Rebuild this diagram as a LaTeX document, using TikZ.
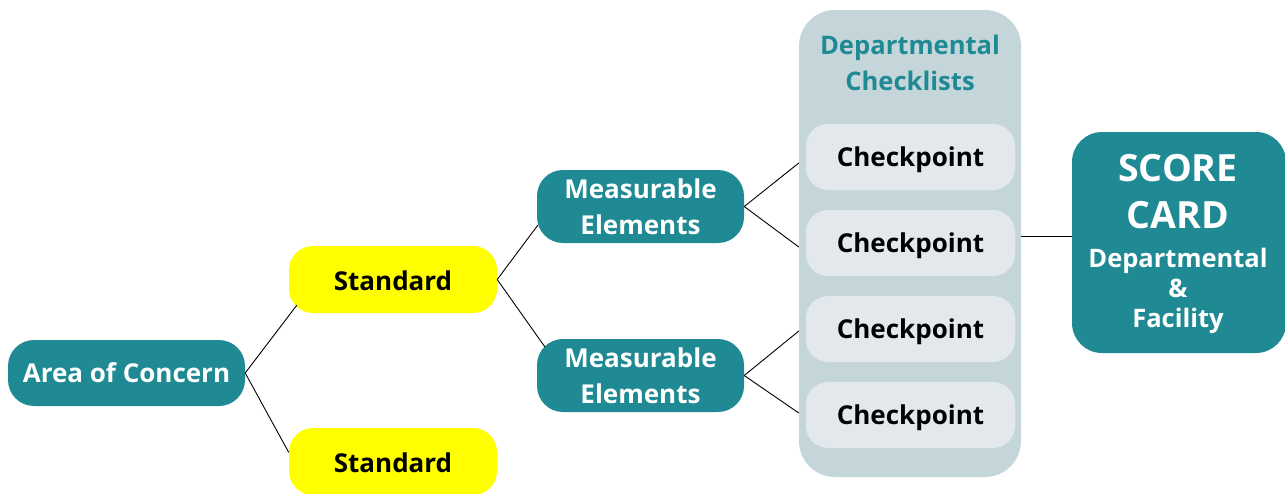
\documentclass[tikz,border=0pt]{standalone}
\usepackage{fontspec}
\setmainfont{Open Sans}
\usetikzlibrary{calc}
\definecolor{tealbox}{RGB}{31,138,148}
\definecolor{panelc}{RGB}{197,214,219}
\definecolor{cpfill}{RGB}{226,232,235}
\definecolor{yellowbox}{RGB}{255,255,0}
\begin{document}
\begin{tikzpicture}[x=1pt,y=-1pt,
  lbl/.style={font=\bfseries\fontsize{26}{36}\selectfont, align=center, inner sep=0pt},
  tealnode/.style={lbl, fill=tealbox, text=white, rounded corners=26pt},
  stdnode/.style={lbl, fill=yellowbox, text=black, rounded corners=24pt, minimum width=208pt, minimum height=67pt, text height=22.6pt, text depth=0pt},
  cpnode/.style={lbl, fill=cpfill, text=black, rounded corners=22pt, minimum width=209pt, minimum height=66pt, text height=18.6pt, text depth=0pt},
  menode/.style={tealnode, minimum width=207pt, minimum height=73pt},
  conn/.style={draw=black, line width=0.9pt},
  sctext/.style={font=\bfseries\fontsize{37.5}{40}\selectfont, text=white, inner sep=0pt, anchor=base},
  sctextsm/.style={font=\bfseries\fontsize{25.5}{30}\selectfont, text=white, inner sep=0pt, anchor=base}
]
\useasboundingbox (0,0) rectangle (1285,493);
% panel
\node[fill=panelc, rounded corners=36pt, minimum width=222pt, minimum height=467pt, inner sep=0pt] (panel) at (910,243.5) {};
\node[lbl, text=tealbox, font=\bfseries\fontsize{25.6}{36}\selectfont] (head) at (910,63) {Departmental\\Checklists};
% checkpoints
\node[cpnode] (cp1) at (910.5,157) {Checkpoint};
\node[cpnode] (cp2) at (910.5,243) {Checkpoint};
\node[cpnode] (cp3) at (910.5,329) {Checkpoint};
\node[cpnode] (cp4) at (910.5,415) {Checkpoint};
% left tree
\node[tealnode, minimum width=237pt, minimum height=66pt, text height=18.6pt, text depth=0pt] (area) at (126.5,373) {Area of Concern};
\node[stdnode] (std1) at (393,279.5) {Standard};
\node[stdnode] (std2) at (393,461.5) {Standard};
\node[menode] (me1) at (640.5,206.5) {Measurable\\Elements};
\node[menode] (me2) at (640.5,375.5) {Measurable\\Elements};
% score card
\node[fill=tealbox, rounded corners=30pt, minimum width=214pt, minimum height=221pt, inner sep=0pt] (score) at (1179,242.5) {};
\node[sctext] (sc1) at (1178,181) {SCORE};
\node[sctext] (sc2) at (1178,228) {CARD};
\node[sctextsm] (sc3) at (1178,267) {Departmental};
\node[sctextsm] (sc4) at (1178,297) {\&};
\node[sctextsm] (sc5) at (1178,327) {Facility};
% connectors
\draw[conn] (area.east) -- ($(std1.south west)+(8,-8)$);
\draw[conn] (area.east) -- ($(std2.west)+(0,-9)$);
\draw[conn] (std1.east) -- ($(me1.south west)+(1,-18)$);
\draw[conn] (std1.east) -- ($(me2.north west)+(8,8)$);
\draw[conn] (me1.east) -- ($(cp1.west -| panel.west)+(0,6)$);
\draw[conn] (me1.east) -- ($(cp2.west -| panel.west)+(0,4)$);
\draw[conn] (me2.east) -- ($(cp3.west -| panel.west)+(0,2)$);
\draw[conn] (me2.east) -- ($(cp4.west -| panel.west)+(0,-2)$);
\draw[conn] ($(cp2.east -| panel.east)+(0,-7)$) -- ($(score.west)+(0,-6.5)$);
\end{tikzpicture}
\end{document}
